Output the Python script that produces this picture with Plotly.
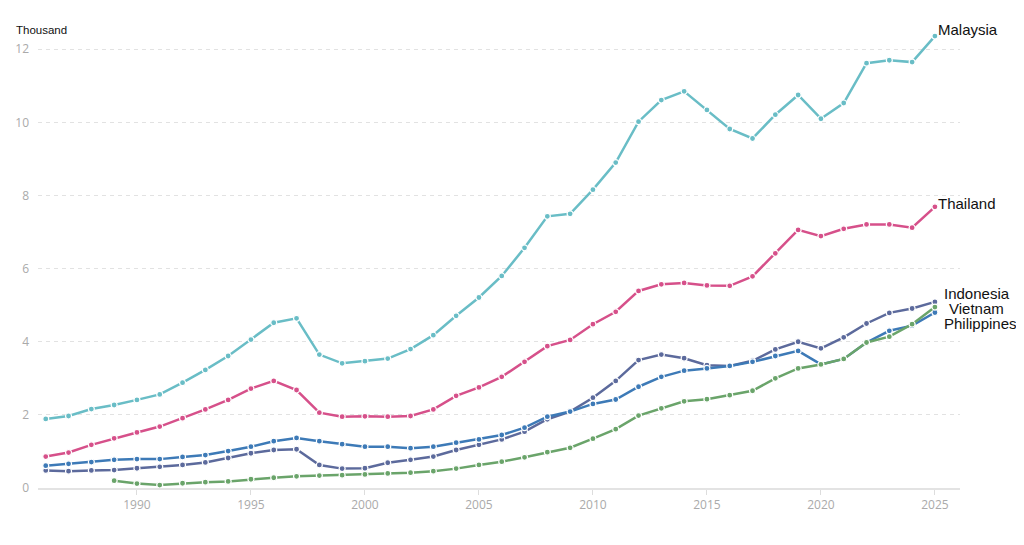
import plotly.graph_objects as go

YEARS = list(range(1986, 2026))
VN_YEARS = list(range(1989, 2026))

MALAYSIA = [1.89, 1.97, 2.16, 2.27, 2.41, 2.56, 2.88, 3.23, 3.61, 4.06,
            4.52, 4.64, 3.65, 3.41, 3.47, 3.54, 3.80, 4.18, 4.71, 5.21,
            5.80, 6.57, 7.43, 7.50, 8.16, 8.90, 10.02, 10.61, 10.85, 10.34,
            9.82, 9.56, 10.21, 10.75, 10.10, 10.53, 11.62, 11.70, 11.65, 12.36]
THAILAND = [0.86, 0.97, 1.18, 1.36, 1.52, 1.68, 1.91, 2.15, 2.41, 2.72,
            2.93, 2.68, 2.06, 1.95, 1.96, 1.95, 1.97, 2.15, 2.52, 2.75,
            3.04, 3.45, 3.88, 4.05, 4.48, 4.82, 5.39, 5.57, 5.61, 5.54,
            5.53, 5.79, 6.42, 7.06, 6.89, 7.09, 7.21, 7.21, 7.12, 7.69]
INDONESIA = [0.48, 0.46, 0.48, 0.49, 0.54, 0.58, 0.63, 0.70, 0.82, 0.95,
             1.04, 1.06, 0.63, 0.53, 0.54, 0.69, 0.77, 0.86, 1.04, 1.18,
             1.33, 1.54, 1.88, 2.09, 2.47, 2.93, 3.50, 3.65, 3.55, 3.36,
             3.34, 3.48, 3.79, 4.00, 3.82, 4.12, 4.50, 4.79, 4.91, 5.09]
PHILIPPINES = [0.61, 0.66, 0.71, 0.77, 0.79, 0.79, 0.85, 0.90, 1.01, 1.13,
               1.28, 1.37, 1.28, 1.20, 1.13, 1.13, 1.09, 1.13, 1.24, 1.33,
               1.45, 1.65, 1.95, 2.09, 2.30, 2.42, 2.77, 3.04, 3.21, 3.27,
               3.34, 3.45, 3.61, 3.75, 3.38, 3.53, 3.98, 4.30, 4.44, 4.80]
VIETNAM = [0.20, 0.12, 0.08, 0.13, 0.16, 0.18, 0.24, 0.28, 0.32, 0.34,
           0.35, 0.37, 0.40, 0.42, 0.46, 0.53, 0.63, 0.72, 0.84, 0.98,
           1.10, 1.35, 1.61, 1.98, 2.18, 2.37, 2.43, 2.54, 2.66, 3.00,
           3.27, 3.38, 3.53, 3.98, 4.14, 4.48, 4.95]

# name, x, y, colour, label y, label x shift, label y shift
SERIES = [
    ("Malaysia", YEARS, MALAYSIA, "#69bdc6", 12.36, 1, 7),
    ("Thailand", YEARS, THAILAND, "#d6508a", 7.69, 1, 3),
    ("Indonesia", YEARS, INDONESIA, "#5c6a9c", 5.33, 7, 0),
    ("Philippines", YEARS, PHILIPPINES, "#3d7ab7", 4.51, 7, 0),
    ("Vietnam", VN_YEARS, VIETNAM, "#6aa46a", 4.92, 12, 0),
]

fig = go.Figure()
for name, xs, ys, col, ly, lx, lys in SERIES:
    fig.add_trace(go.Scatter(
        x=xs, y=ys, mode="lines+markers", name=name,
        line=dict(color=col, width=2.5),
        marker=dict(color=col, size=6, line=dict(color="white", width=1.2)),
        showlegend=False,
    ))
    fig.add_annotation(
        x=xs[-1], y=ly, text=name, showarrow=False,
        xanchor="left", yanchor="middle", xshift=lx, yshift=lys,
        font=dict(family="Liberation Sans, Arial", size=15, color="#111"),
    )

fig.add_annotation(
    x=0, y=1, xref="paper", yref="paper", text="Thousand", showarrow=False,
    xanchor="left", yanchor="bottom", xshift=-24, yshift=-7,
    font=dict(family="Liberation Sans, Arial", size=11.5, color="#111"),
)

# page body has an 8px margin, so the figure is shrunk by that much
fig.update_layout(
    width=1016, height=537,
    margin=dict(l=30, r=64, t=23, b=57),
    plot_bgcolor="white", paper_bgcolor="white",
    xaxis=dict(
        range=[1985.66, 2026.1], tickvals=list(range(1990, 2030, 5)),
        showgrid=False, zeroline=False, automargin=False,
        showline=True, linecolor="#e3e3e3", linewidth=1.5,
        ticks="outside", ticklen=5, tickcolor="#dddddd",
        tickfont=dict(family="Open Sans", size=12, color="#aaaaaa"),
    ),
    yaxis=dict(
        range=[0, 12.5], tickvals=[0, 2, 4, 6, 8, 10, 12],
        showgrid=True, gridcolor="#e2e2e2", griddash="4px,4px", gridwidth=1,
        zeroline=False, ticks="", ticklabelstandoff=8, automargin=False,
        tickfont=dict(family="Open Sans", size=12, color="#aaaaaa"),
    ),
)

fig.write_html("out.html")
